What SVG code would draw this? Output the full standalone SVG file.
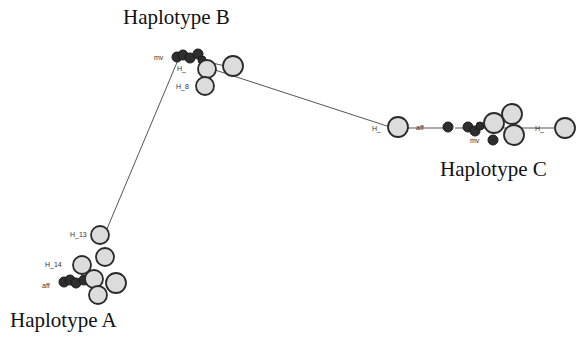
<svg xmlns="http://www.w3.org/2000/svg" width="577" height="340" viewBox="0 0 577 340">
<style>
.bg{fill:#ffffff}
.lt{fill:#dcdcdc;stroke:#2a2a2a;stroke-width:1.8}
.dk{fill:#2e2e2e;stroke:#1a1a1a;stroke-width:1}
.e{stroke:#555;stroke-width:1;fill:none}
.t{font-family:"Liberation Serif",serif;font-size:21px;fill:#111}
.s{font-family:"Liberation Sans",sans-serif;font-size:7px;fill:#333}
</style>
<rect class="bg" width="577" height="340"/>
<g id="connectors">
<line class="e" x1="104" y1="236" x2="178" y2="60"/>
<line class="e" x1="215" y1="70" x2="390" y2="127"/>
<line class="e" x1="408" y1="128" x2="448" y2="128"/>
<line class="e" x1="455" y1="128" x2="556" y2="128"/>
<line class="e" x1="200" y1="60" x2="225" y2="66"/>
</g>
<g id="hapB">
<text class="s" x="154" y="60">mv</text>
<circle class="dk" cx="177" cy="57" r="5"/>
<circle class="dk" cx="183" cy="55" r="5"/>
<circle class="dk" cx="190" cy="58" r="5"/>
<circle class="dk" cx="198" cy="54" r="5"/>
<circle class="dk" cx="202" cy="60" r="4"/>
<circle class="lt" cx="207" cy="69" r="9"/>
<circle class="lt" cx="233" cy="66" r="10"/>
<circle class="lt" cx="205" cy="86" r="9"/>
<text class="s" x="177" y="71">H_</text>
<text class="s" x="176" y="89">H_8</text>
</g>
<g id="hapC">
<text class="s" x="372" y="131">H_</text>
<circle class="lt" cx="398" cy="127" r="10"/>
<text class="s" x="416" y="130">aff</text>
<circle class="dk" cx="448" cy="127" r="5"/>
<circle class="dk" cx="468" cy="127" r="5"/>
<circle class="dk" cx="475" cy="131" r="5"/>
<circle class="dk" cx="480" cy="126" r="4"/>
<circle class="lt" cx="494" cy="123" r="10"/>
<circle class="lt" cx="512" cy="114" r="10"/>
<circle class="lt" cx="514" cy="135" r="10"/>
<circle class="dk" cx="493" cy="140" r="5"/>
<text class="s" x="470" y="143">mv</text>
<text class="s" x="535" y="131">H_</text>
<circle class="lt" cx="565" cy="128" r="10"/>
</g>
<g id="hapA">
<text class="s" x="70" y="237">H_13</text>
<circle class="lt" cx="100" cy="235" r="9"/>
<circle class="lt" cx="105" cy="257" r="9"/>
<text class="s" x="45" y="267">H_14</text>
<circle class="lt" cx="82" cy="265" r="9"/>
<circle class="dk" cx="64" cy="282" r="5"/>
<circle class="dk" cx="70" cy="280" r="5"/>
<circle class="dk" cx="76" cy="283" r="5"/>
<circle class="dk" cx="84" cy="280" r="5"/>
<text class="s" x="42" y="288">aff</text>
<circle class="lt" cx="94" cy="279" r="9"/>
<circle class="lt" cx="116" cy="283" r="10"/>
<circle class="lt" cx="98" cy="295" r="9"/>
</g>
<g id="labels">
<text class="t" x="123" y="24">Haplotype B</text>
<text class="t" x="440" y="176">Haplotype C</text>
<text class="t" x="10" y="327">Haplotype A</text>
</g>
</svg>
